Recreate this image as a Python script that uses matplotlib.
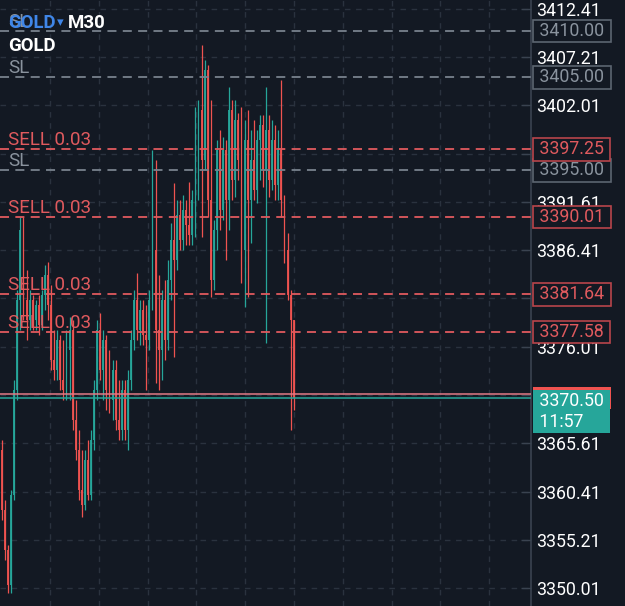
import matplotlib
matplotlib.use('Agg')
import matplotlib.pyplot as plt
import matplotlib.transforms as mtransforms
import numpy as np

plt.rcParams['font.family'] = ['Roboto', 'DejaVu Sans']

# ---------------- data ----------------
opens = [3364.90, 3358.44, 3354.14, 3350.37, 3360.06, 3371.36, 3381.05, 3388.58, 3381.05, 3378.90,
         3381.05, 3378.90, 3380.51, 3378.36, 3381.59, 3383.74, 3380.51, 3374.59, 3373.51, 3376.74,
         3372.44, 3371.36, 3375.67, 3377.82, 3368.13, 3364.90, 3360.60, 3358.98, 3363.83, 3360.06,
         3365.98, 3371.36, 3377.82, 3373.51, 3376.74, 3371.36, 3370.28, 3373.51, 3368.13, 3367.05,
         3371.36, 3367.05, 3372.44, 3376.74, 3381.05, 3377.82, 3379.97, 3377.28, 3376.74, 3381.05,
         3386.43, 3377.82, 3375.67, 3381.05, 3376.74, 3383.20, 3387.51, 3385.35, 3390.20, 3387.51,
         3390.74, 3389.12, 3388.04, 3391.81, 3399.35, 3401.50, 3396.12, 3405.81, 3391.81, 3383.20,
         3388.58, 3397.19, 3390.74, 3397.19, 3391.81, 3401.50, 3393.96, 3400.42, 3396.12, 3386.43,
         3398.27, 3391.81, 3396.12, 3392.89, 3398.27, 3399.88, 3395.04, 3399.35, 3393.96, 3398.27,
         3393.43, 3397.19, 3391.81, 3386.43, 3381.59, 3378.90]
highs = [3365.98, 3359.52, 3354.68, 3360.60, 3372.44, 3382.12, 3389.98, 3389.98, 3384.28, 3382.12,
         3381.59, 3381.05, 3381.59, 3382.12, 3384.82, 3385.14, 3382.66, 3377.82, 3377.82, 3377.28,
         3376.74, 3377.82, 3379.22, 3378.90, 3370.28, 3367.05, 3364.90, 3364.90, 3365.98, 3367.05,
         3372.44, 3378.90, 3379.65, 3377.82, 3377.28, 3375.67, 3374.59, 3374.59, 3372.44, 3372.44,
         3372.44, 3373.51, 3377.82, 3382.12, 3383.95, 3381.05, 3381.05, 3380.51, 3382.12, 3397.19,
         3396.12, 3383.74, 3382.12, 3383.20, 3385.35, 3389.34, 3393.64, 3391.81, 3391.81, 3392.35,
         3391.81, 3393.75, 3392.89, 3401.82, 3402.58, 3408.50, 3406.88, 3406.34, 3402.58, 3389.66,
         3398.27, 3399.35, 3398.59, 3398.27, 3403.98, 3402.58, 3402.58, 3401.18, 3401.82, 3400.42,
         3401.50, 3399.35, 3400.42, 3399.35, 3400.96, 3400.96, 3403.98, 3400.96, 3400.42, 3399.88,
         3399.35, 3404.73, 3392.35, 3388.26, 3382.12, 3378.90]
lows = [3357.37, 3353.06, 3349.51, 3349.51, 3359.52, 3370.28, 3377.82, 3378.90, 3376.74, 3377.82,
        3377.82, 3377.82, 3377.28, 3377.82, 3379.97, 3378.90, 3373.51, 3372.44, 3372.44, 3371.36,
        3370.28, 3370.28, 3370.28, 3367.05, 3363.83, 3359.52, 3357.69, 3358.44, 3359.52, 3359.52,
        3364.90, 3370.28, 3372.44, 3370.28, 3369.21, 3368.88, 3368.13, 3367.05, 3365.98, 3365.98,
        3365.98, 3364.90, 3371.36, 3375.67, 3376.74, 3376.20, 3376.20, 3371.36, 3375.67, 3379.97,
        3372.11, 3371.36, 3372.44, 3374.59, 3375.67, 3381.05, 3374.91, 3384.28, 3386.43, 3386.43,
        3386.97, 3386.97, 3386.97, 3387.83, 3391.81, 3387.83, 3395.04, 3389.98, 3381.37, 3382.12,
        3386.43, 3388.58, 3389.66, 3385.35, 3388.58, 3391.81, 3392.13, 3393.96, 3382.88, 3380.29,
        3381.37, 3387.18, 3391.81, 3391.49, 3393.96, 3393.21, 3376.42, 3392.13, 3392.89, 3391.81,
        3391.81, 3389.98, 3385.03, 3381.05, 3367.05, 3369.21]
closes = [3358.44, 3354.14, 3350.37, 3360.06, 3371.36, 3381.05, 3388.58, 3381.05, 3378.90, 3381.05,
          3378.90, 3380.51, 3378.36, 3381.59, 3383.74, 3380.51, 3374.59, 3373.51, 3376.74, 3372.44,
          3371.36, 3375.67, 3377.82, 3368.13, 3364.90, 3360.60, 3358.98, 3363.83, 3360.06, 3365.98,
          3371.36, 3377.82, 3373.51, 3376.74, 3371.36, 3370.28, 3373.51, 3368.13, 3367.05, 3371.36,
          3367.05, 3372.44, 3376.74, 3381.05, 3377.82, 3379.97, 3377.28, 3376.74, 3381.05, 3386.43,
          3377.82, 3375.67, 3381.05, 3376.74, 3383.20, 3387.51, 3385.35, 3390.20, 3387.51, 3390.74,
          3389.12, 3388.04, 3391.81, 3399.35, 3401.50, 3396.12, 3405.81, 3391.81, 3383.20, 3388.58,
          3397.19, 3390.74, 3397.19, 3391.81, 3401.50, 3393.96, 3400.42, 3396.12, 3386.43, 3398.27,
          3391.81, 3396.12, 3392.89, 3398.27, 3399.88, 3395.04, 3399.35, 3393.96, 3398.27, 3393.43,
          3397.19, 3391.81, 3386.43, 3381.59, 3378.90, 3370.50]

price_ticks = [3412.41, 3407.21, 3402.01, 3396.81, 3391.61, 3386.41, 3381.21,
               3376.01, 3370.81, 3365.61, 3360.41, 3355.21, 3350.01]
sl_levels = [3410.00, 3405.00, 3395.00]
sell_levels = [3397.25, 3390.01, 3381.64, 3377.58]
sell_text = "SELL 0.03"
sl_text = "SL"
bid = 3370.50
ask = 3370.90
clock = "11:57"
symbol = "GOLD"
timeframe = "M30"

# ---------------- style ----------------
BG = '#131923'
GRID = '#2a323e'
TEAL = '#26a69a'
RED = '#ef5350'
LINE_RED = '#e05a5e'
SL_GRAY = '#8a939e'
SL_LINE = '#78828d'
SPINE = '#3a4350'
FS = 12.8
FS_LBL = 13.6

W, H = 625, 606
AX_W = 531
fig = plt.figure(figsize=(W / 100, H / 100), dpi=100, facecolor=BG)
ax = fig.add_axes([0, 0, AX_W / W, 1])
ax.set_facecolor(BG)

n = len(opens)
x = np.arange(n)
ax.set_xlim(-0.65, 172.3)
ax.set_ylim(3348.11, 3413.34)

# grid
ax.set_xticks(15.6 + 15.9 * np.arange(10))
ax.set_yticks(price_ticks)
ax.grid(True, color=GRID, linestyle=(0, (4, 4)), linewidth=1.0, zorder=0)
ax.set_axisbelow(True)

# axes decoration
for s in ['left', 'top', 'bottom']:
    ax.spines[s].set_visible(False)
ax.spines['right'].set_color(SPINE)
ax.spines['right'].set_linewidth(1.2)
ax.tick_params(axis='x', length=0, labelbottom=False)
ax.yaxis.tick_right()
ax.tick_params(axis='y', direction='in', length=7, width=1, color=SPINE,
               labelcolor='white', labelsize=FS, pad=4)
ax.set_yticklabels([f"{v:.2f}" for v in price_ticks])

# candles
o = np.array(opens); h = np.array(highs); l = np.array(lows); c = np.array(closes)
cols = [TEAL if cc >= oo else RED for oo, cc in zip(o, c)]
ax.vlines(x, l, h, colors=cols, linewidth=0.9, zorder=3)
ax.bar(x, np.maximum(np.abs(c - o), 0.15), bottom=np.minimum(o, c), width=0.6,
       color=cols, linewidth=0, zorder=3, alpha=0.92)

# order / SL lines
trans = mtransforms.blended_transform_factory(ax.transAxes, ax.transData)
lab_off = mtransforms.offset_copy(ax.transData, fig=fig, x=0, y=0, units='dots')
lab_trans = mtransforms.blended_transform_factory(ax.transAxes, lab_off)
for lv in sl_levels:
    ax.axhline(lv, color=SL_LINE, linestyle=(0, (5, 3.5)), linewidth=1.3, zorder=4)
    ax.text(8 / AX_W, lv, sl_text, transform=lab_trans,
            color=SL_GRAY, fontsize=FS_LBL, va='bottom', ha='left', zorder=4)
for lv in sell_levels:
    ax.axhline(lv, color=LINE_RED, linestyle=(0, (5, 3.5)), linewidth=1.3, zorder=4)
    ax.text(8 / AX_W, lv, sell_text, transform=lab_trans,
            color=LINE_RED, fontsize=FS_LBL, va='bottom', ha='left', zorder=4)

# bid / ask lines
ax.axhline(ask, color='#e27a86', linewidth=1.1, zorder=4)
ax.axhline(bid, color=TEAL, linewidth=1.1, zorder=4)

# right-hand labels
bx = 535 / AX_W
for lv in sl_levels:
    ax.text(bx, lv, f" {lv:.2f} ", transform=trans, color=SL_GRAY, fontsize=FS,
            va='center', ha='left', clip_on=False, zorder=6,
            bbox=dict(boxstyle='square,pad=0.12', fc=BG, ec='#5c6570', lw=1.2))
for lv in sell_levels:
    ax.text(bx, lv, f" {lv:.2f} ", transform=trans, color=LINE_RED, fontsize=FS,
            va='center', ha='left', clip_on=False, zorder=6,
            bbox=dict(boxstyle='square,pad=0.12', fc=BG, ec='#b8454b', lw=1.2))

ask_trans = mtransforms.blended_transform_factory(
    ax.transAxes, mtransforms.offset_copy(ax.transData, fig=fig, x=0, y=-4, units='dots'))
ax.text(bx, ask, f" {ask:.2f} ", transform=ask_trans,
        color='#f3c0c0', fontsize=FS, va='center', ha='left', clip_on=False, zorder=7,
        bbox=dict(boxstyle='square,pad=0.12', fc=RED, ec=RED, lw=0))
bid_trans = mtransforms.blended_transform_factory(
    ax.transAxes, mtransforms.offset_copy(ax.transData, fig=fig, x=0, y=6, units='dots'))
ax.text(bx, bid, f" {bid:.2f} \n {clock}", transform=bid_trans, color='white', fontsize=FS,
        va='top', ha='left', clip_on=False, zorder=8, linespacing=1.2,
        bbox=dict(boxstyle='square,pad=0.12', fc=TEAL, ec=TEAL, lw=0))

# header
HFS = 13.4
fig.text(8 / W, 1 - 23 / H, symbol, color='#3f86e8', fontsize=HFS, fontweight='bold',
         va='center', ha='left')
fig.text(57 / W, 1 - 23 / H, "\u25BE", color='#3f86e8', fontsize=9.5,
         va='center', ha='left', family=['DejaVu Sans'])
fig.text(68 / W, 1 - 23 / H, timeframe, color='white', fontsize=HFS, fontweight='bold',
         va='center', ha='left')
fig.text(8 / W, 1 - 46 / H, symbol, color='white', fontsize=HFS, fontweight='bold',
         va='center', ha='left')

fig.savefig('out.png', dpi=100, facecolor=BG)
